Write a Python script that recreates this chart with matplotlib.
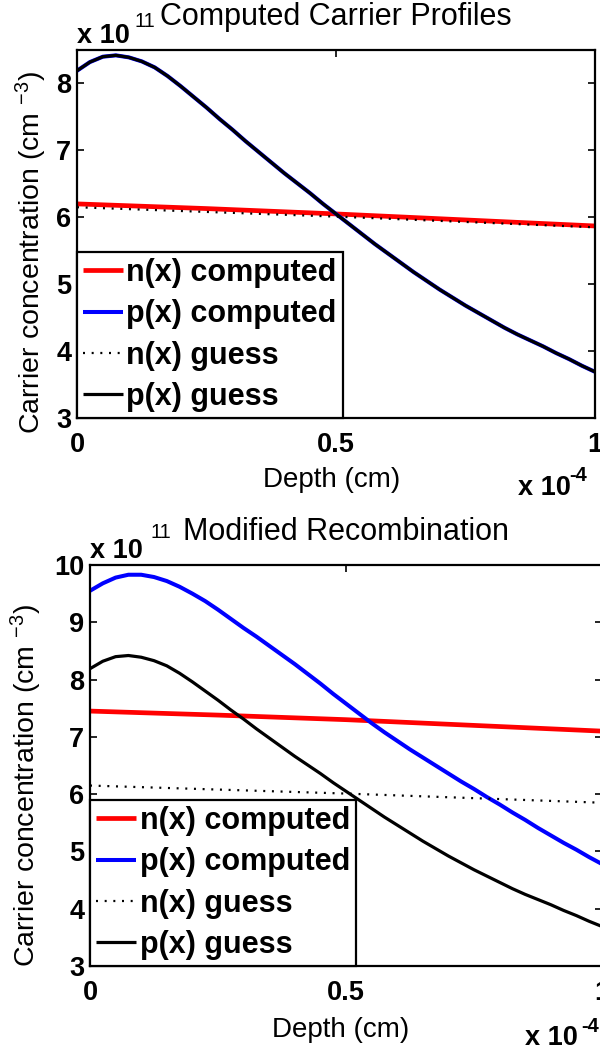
import numpy as np
import matplotlib
matplotlib.use("Agg")
import matplotlib.pyplot as plt
from matplotlib.ticker import FixedLocator, FixedFormatter

plt.rcParams["font.family"] = ["Liberation Sans", "DejaVu Sans"]
plt.rcParams["mathtext.fontset"] = "custom"
plt.rcParams["mathtext.rm"] = "Liberation Sans"
plt.rcParams["mathtext.it"] = "Liberation Sans:italic"
plt.rcParams["mathtext.bf"] = "Liberation Sans:bold"
plt.rcParams["mathtext.default"] = "regular"

# ---- data (depth in units of 1e-4 cm, concentration in units of 1e11 cm^-3) ----
DEPTH_UNIT = 1e-4
CONC_UNIT = 1e11

depth_fine = [0.000, 0.025, 0.050, 0.075, 0.100, 0.125, 0.150, 0.175, 0.200, 0.225,
              0.250, 0.275, 0.300, 0.325, 0.350, 0.375, 0.400, 0.425, 0.450, 0.475,
              0.500, 0.525, 0.550, 0.575, 0.600, 0.625, 0.650, 0.675, 0.700, 0.725,
              0.750, 0.775, 0.800, 0.825, 0.850, 0.875, 0.900, 0.925, 0.950, 0.975,
              1.000]
depth_coarse = [0.0, 0.25, 0.50, 0.75, 1.00]

# hole profile used as the initial guess (same in both panels)
p_guess = [8.19, 8.32, 8.40, 8.42, 8.39, 8.33, 8.24, 8.11, 7.96, 7.80,
           7.64, 7.47, 7.31, 7.14, 6.98, 6.82, 6.66, 6.51, 6.36, 6.20,
           6.05, 5.90, 5.75, 5.60, 5.46, 5.32, 5.18, 5.05, 4.92, 4.80,
           4.68, 4.57, 4.46, 4.35, 4.25, 4.16, 4.07, 3.97, 3.88, 3.78,
           3.69]
# electron profile used as the initial guess
n_guess = [6.15, 6.08, 6.01, 5.93, 5.85]

# computed profiles, baseline recombination
p_computed = [8.19, 8.32, 8.40, 8.42, 8.39, 8.33, 8.24, 8.11, 7.96, 7.80,
              7.64, 7.47, 7.31, 7.14, 6.98, 6.82, 6.66, 6.51, 6.36, 6.20,
              6.05, 5.90, 5.75, 5.60, 5.46, 5.32, 5.18, 5.05, 4.92, 4.80,
              4.68, 4.57, 4.46, 4.35, 4.25, 4.16, 4.07, 3.97, 3.88, 3.78,
              3.69]
n_computed = [6.20, 6.13, 6.05, 5.96, 5.87]

# computed profiles, modified recombination
p_computed_mod = [9.55, 9.68, 9.78, 9.83, 9.83, 9.79, 9.72, 9.62, 9.50, 9.37,
                  9.22, 9.06, 8.90, 8.75, 8.59, 8.43, 8.27, 8.10, 7.93, 7.75,
                  7.58, 7.41, 7.24, 7.08, 6.93, 6.78, 6.64, 6.50, 6.36, 6.22,
                  6.09, 5.95, 5.82, 5.68, 5.55, 5.41, 5.28, 5.15, 5.03, 4.90,
                  4.78]
n_computed_mod = [7.45, 7.38, 7.30, 7.20, 7.10]

titles = ["Computed Carrier Profiles", "Modified Recombination"]
labels = ["n(x) computed", "p(x) computed", "n(x) guess", "p(x) guess"]
xtick_vals = [0.0, 0.5, 1.0]
xtick_text = ["0", "0.5", "1"]
ylims = [(3, 8.5), (3, 10)]

W, H = 600, 1053
fig = plt.figure(figsize=(W / 100, H / 100), dpi=100)


def fpos(x, y):
    return x / W, 1 - y / H


def axes_rect(left, top, right, bottom):
    return [left / W, 1 - bottom / H, (right - left) / W, (bottom - top) / H]


ax_top = fig.add_axes(axes_rect(77, 50, 595, 418))
ax_bot = fig.add_axes(axes_rect(90, 565, 602, 966))

xf = np.array(depth_fine) * DEPTH_UNIT
xc = np.array(depth_coarse) * DEPTH_UNIT

panels = [
    (ax_top, n_computed, p_computed),
    (ax_bot, n_computed_mod, p_computed_mod),
]

dot_style = (0, (0.9, 3.0))
line_kw = dict(solid_joinstyle="round", solid_capstyle="butt")

for i, (ax, n_c, p_c) in enumerate(panels):
    ax.plot(xc, np.array(n_c) * CONC_UNIT, color="#ff0000", lw=3.4,
            label=labels[0], **line_kw)
    ax.plot(xf, np.array(p_c) * CONC_UNIT, color="#0000ff", lw=2.9,
            label=labels[1], **line_kw)
    ax.plot(xc, np.array(n_guess) * CONC_UNIT, color="black", lw=1.6,
            linestyle=dot_style, label=labels[2])
    ax.plot(xf, np.array(p_guess) * CONC_UNIT, color="black", lw=2.3,
            label=labels[3], **line_kw)

    ax.set_xlim(0, 1.0 * DEPTH_UNIT)
    lo, hi = ylims[i]
    ax.set_ylim(lo * CONC_UNIT, hi * CONC_UNIT)

    ax.xaxis.set_major_locator(FixedLocator([v * DEPTH_UNIT for v in xtick_vals]))
    ax.xaxis.set_major_formatter(FixedFormatter(xtick_text))
    yt = list(range(int(lo), int(hi) + 1))
    ax.yaxis.set_major_locator(FixedLocator([v * CONC_UNIT for v in yt]))
    ax.yaxis.set_major_formatter(FixedFormatter([str(v) for v in yt]))

    ax.tick_params(direction="in", length=5, width=1.2, top=True, right=True,
                   labelsize=19.5)
    ax.tick_params(axis="x", pad=10)
    ax.tick_params(axis="y", pad=4)
    for lab in ax.get_xticklabels() + ax.get_yticklabels():
        lab.set_fontweight("bold")
    for sp in ax.spines.values():
        sp.set_linewidth(1.6)

    ax.set_title(titles[i], fontsize=22, pad=18)

    leg = ax.legend(loc="lower left", bbox_to_anchor=(0, 0), borderaxespad=0,
                    fancybox=False, framealpha=1, edgecolor="black",
                    prop={"size": 22, "weight": "bold"}, handlelength=1.3,
                    handletextpad=0.12, borderpad=0.2, labelspacing=0.37)
    leg.get_frame().set_linewidth(1.6)

# axis labels
fig.text(*fpos(332, 487), "Depth (cm)", fontsize=20, ha="center", va="baseline")
fig.text(*fpos(341, 1037), "Depth (cm)", fontsize=20, ha="center", va="baseline")
ylab = "Carrier concentration (cm $^{-3}$)"
fig.text(*fpos(31, 253), ylab, fontsize=20.5, rotation=90, ha="center", va="center")
fig.text(*fpos(26, 786), ylab, fontsize=20.5, rotation=90, ha="center", va="center")

# scale multipliers
fig.text(*fpos(77, 43), "x 10", fontsize=19.5, fontweight="bold", va="baseline")
fig.text(*fpos(134, 27), "11", fontsize=14.5, va="baseline")
fig.text(*fpos(90, 558), "x 10", fontsize=19.5, fontweight="bold", va="baseline")
fig.text(*fpos(150, 538), "11", fontsize=14.5, va="baseline")
fig.text(*fpos(518, 495), "x 10", fontsize=19.5, fontweight="bold", va="baseline")
fig.text(*fpos(569, 481), "-4", fontsize=14.5, fontweight="bold", va="baseline")
fig.text(*fpos(525, 1045), "x 10", fontsize=19.5, fontweight="bold", va="baseline")
fig.text(*fpos(581, 1032), "-4", fontsize=14.5, fontweight="bold", va="baseline")

fig.savefig("out.png", dpi=100)
